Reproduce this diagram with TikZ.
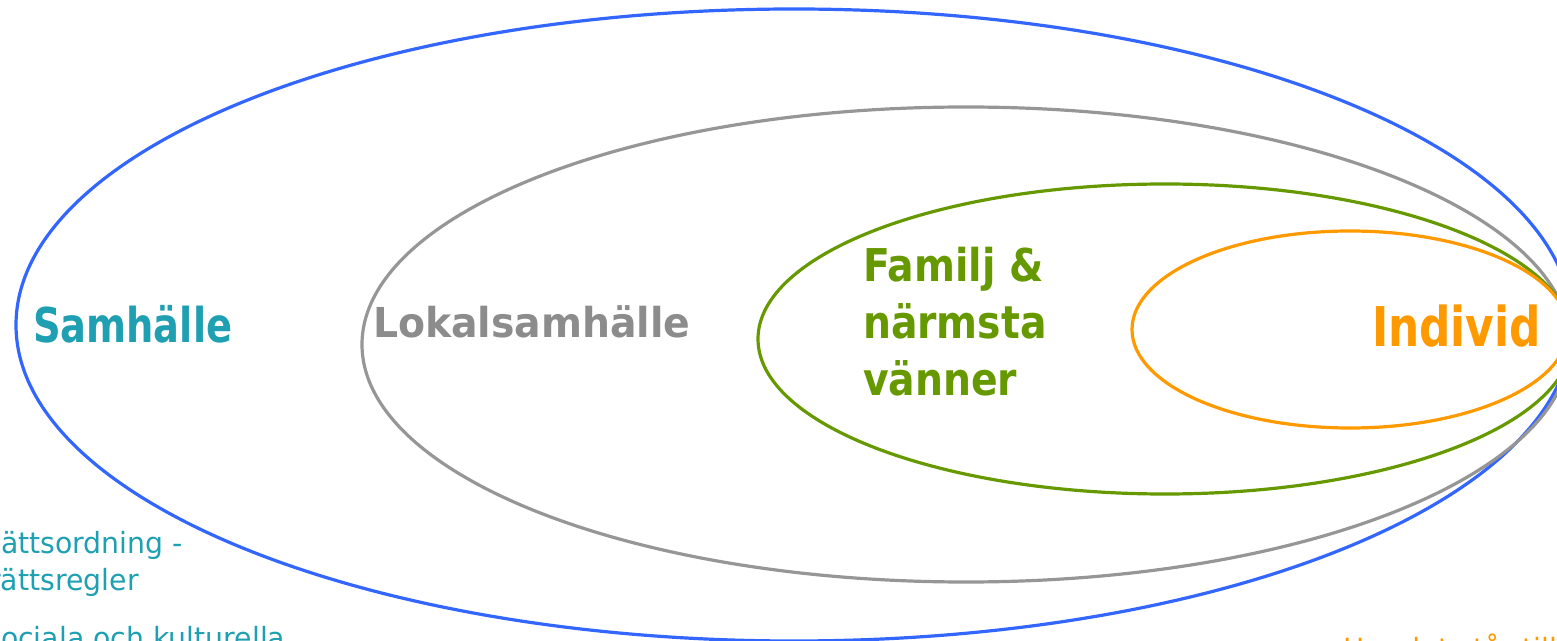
\documentclass[tikz,border=0pt]{standalone}
\usepackage{fontspec}
\setmainfont{DejaVu Sans}
\newfontfamily\fSam[FakeStretch=0.80]{DejaVu Sans}
\newfontfamily\fLok[FakeStretch=0.955]{DejaVu Sans}
\newfontfamily\fInd[FakeStretch=0.80]{DejaVu Sans}
\newfontfamily\fFam[FakeStretch=0.87]{DejaVu Sans}
\newfontfamily\fBody[FakeStretch=0.97]{DejaVu Sans}
\definecolor{cblue}{RGB}{51,102,255}
\definecolor{cgray}{RGB}{150,150,150}
\definecolor{cgreen}{RGB}{102,153,0}
\definecolor{corange}{RGB}{255,153,0}
\definecolor{cteal}{RGB}{31,160,178}
\definecolor{cgraytext}{RGB}{140,140,140}
\tikzset{
  ring/.style={line width=1.6pt},
  lbl/.style={anchor=base west, inner sep=0pt, outer sep=0pt},
}
\begin{document}
\begin{tikzpicture}[x=0.5pt,y=-0.5pt]
\useasboundingbox (0,0) rectangle (1557,641);
\clip (0,0) rectangle (1557,641);
% ellipses
\draw[ring, cblue]   (794,325)  ellipse [x radius=778, y radius=316];
\draw[ring, cgray]   (966,344.5) ellipse [x radius=604, y radius=237.5];
\draw[ring, cgreen]  (1165,339) ellipse [x radius=407, y radius=155];
\draw[ring, corange] (1350,329.5) ellipse [x radius=218, y radius=98.5];
% labels
\node[lbl, text=cteal, font=\fSam\bfseries\fontsize{24pt}{28pt}\selectfont] (sam) at (33,343) {Samhälle};
\node[lbl, text=cgraytext, font=\fLok\bfseries\fontsize{20.6pt}{24pt}\selectfont] (lok) at (373,338) {Lokalsamhälle};
\node[lbl, text=corange, font=\fInd\bfseries\fontsize{27.4pt}{32pt}\selectfont] (ind) at (1372,347) {Individ};
\node[lbl, text=cgreen, font=\fFam\bfseries\fontsize{22.6pt}{28.5pt}\selectfont, align=left] (fam) at (863,395) {Familj \&\\närmsta\\vänner};
\node[lbl, text=cteal, font=\fBody\fontsize{14.6pt}{18.5pt}\selectfont, align=left] (soc) at (1,648) {\leavevmode\llap{R}ättsordning -\\\leavevmode\llap{r}ättsregler\\[10.5pt]\leavevmode\llap{S}ociala och kulturella};
\node[lbl, text=corange, font=\fBody\fontsize{14.6pt}{18.5pt}\selectfont] (hur) at (1343,659) {Hur det står till};
\end{tikzpicture}
\end{document}
